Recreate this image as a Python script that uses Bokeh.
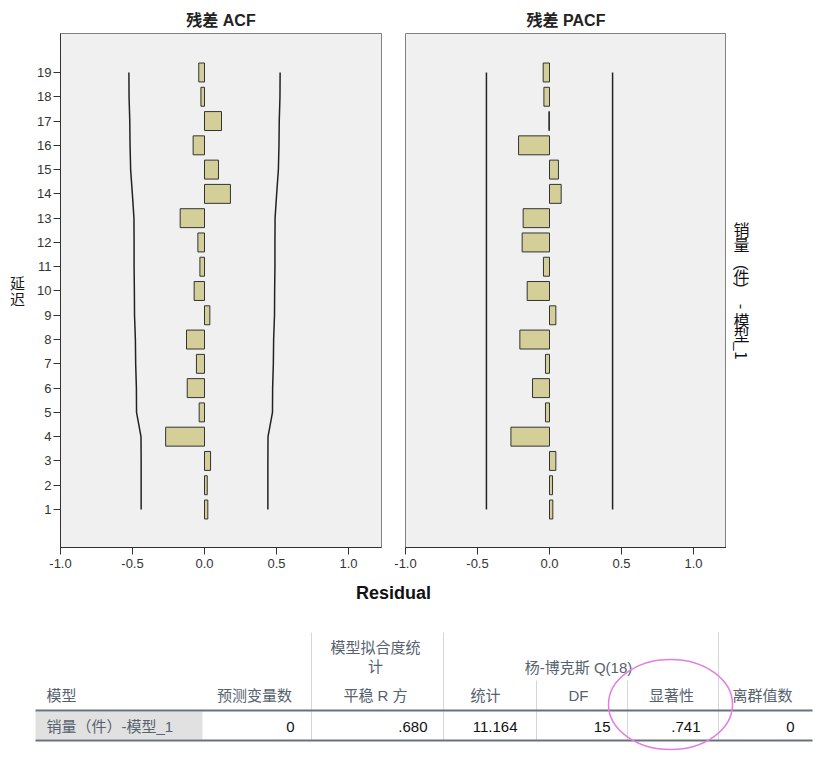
from bokeh.plotting import figure
from bokeh.models import Range1d, FixedTicker, PrintfTickFormatter, Title
from bokeh.layouts import column, row
from bokeh.embed import file_html
from bokeh.resources import INLINE
from bokeh.core.properties import value
import math

# ---------------- data ----------------
lags = list(range(1, 20))
acf = [0.023, 0.019, 0.042, -0.270, -0.037, -0.120, -0.056, -0.125, 0.037, -0.072,
       -0.032, -0.046, -0.169, 0.180, 0.097, -0.079, 0.118, -0.025, -0.040]
acf_limit = [0.440, 0.440, 0.440, 0.441, 0.472, 0.473, 0.478, 0.480, 0.486, 0.487,
             0.489, 0.489, 0.490, 0.501, 0.513, 0.517, 0.519, 0.524, 0.525]
pacf = [0.023, 0.021, 0.044, -0.268, -0.028, -0.118, -0.028, -0.206, 0.044, -0.155,
        -0.042, -0.190, -0.183, 0.081, 0.062, -0.215, -0.005, -0.039, -0.044]
pacf_limit = [0.438, 0.438, 0.438, 0.438, 0.438, 0.438, 0.438, 0.438, 0.438, 0.438,
              0.438, 0.438, 0.438, 0.438, 0.438, 0.438, 0.438, 0.438, 0.438]
x_ticks = [-1.0, -0.5, 0.0, 0.5, 1.0]

panel_titles = ["残差 ACF", "残差 PACF"]
y_label = "延迟"
x_label = "Residual"
series_label = "销量（件）-模型_1"

group_headers = ["模型拟合度统计", "杨-博克斯 Q(18)"]
col_headers = ["模型", "预测变量数", "平稳 R 方", "统计", "DF", "显著性", "离群值数"]
row_label = "销量（件）-模型_1"
row_values = ["0", ".680", "11.164", "15", ".741", "0"]

# ---------------- style ----------------
LAT = "Liberation Sans, Noto Sans CJK SC"
CJK = "Noto Sans CJK SC, Liberation Sans"
X_START, X_END = -1.0, 1.229
Y_START, Y_END = -0.565, 20.606


def panel(title, vals, limits, first):
    p = figure(width=393 if first else 333, height=578, output_backend="svg",
               toolbar_location=None,
               x_range=Range1d(X_START, X_END), y_range=Range1d(Y_START, Y_END),
               min_border_left=60 if first else 12,
               min_border_right=12 if first else 0,
               min_border_top=33, min_border_bottom=31)
    p.title = Title(text=title, align="center", text_font=LAT, text_font_size="16px",
                    text_font_style="bold", text_color="#222222", standoff=9)
    p.background_fill_color = "#f0f0f0"
    p.border_fill_color = "white"
    p.outline_line_color = "#808080"
    p.outline_line_width = 1
    p.xgrid.visible = False
    p.ygrid.visible = False

    ax = p.xaxis[0]
    ax.ticker = FixedTicker(ticks=x_ticks, minor_ticks=[])
    ax.formatter = PrintfTickFormatter(format="%.1f")
    ax.major_tick_out = 7
    ax.major_tick_in = 0
    ax.minor_tick_out = 0
    ax.axis_line_color = "#333333"
    ax.major_tick_line_color = "#333333"
    ax.major_label_text_font = LAT
    ax.major_label_text_font_size = "13px"
    ax.major_label_text_color = "#333333"
    ax.major_label_standoff = 4

    ay = p.yaxis[0]
    if first:
        ay.ticker = FixedTicker(ticks=lags, minor_ticks=[])
        ay.major_tick_out = 7
        ay.major_tick_in = 0
        ay.minor_tick_out = 0
        ay.axis_line_color = "#333333"
        ay.major_tick_line_color = "#333333"
        ay.major_label_text_font = LAT
        ay.major_label_text_font_size = "13px"
        ay.major_label_text_color = "#333333"
        ay.major_label_standoff = 2
        ay.axis_label = "\n".join(list(y_label))
        ay.axis_label_orientation = "horizontal"
        ay.axis_label_text_font = CJK
        ay.axis_label_text_font_size = "15px"
        ay.axis_label_text_font_style = "normal"
        ay.axis_label_text_line_height = 0.75
        ay.axis_label_text_color = "#1a1a1a"
        ay.axis_label_standoff = 9
    else:
        ay.visible = False

    p.hbar(y=lags, left=0, right=vals, height=0.78,
           fill_color="#d4cf98", line_color="#333333", line_width=1)
    p.line(x=limits, y=lags, line_color="#222222", line_width=1.5)
    p.line(x=[-v for v in limits], y=lags, line_color="#222222", line_width=1.5)
    return p


p1 = panel(panel_titles[0], acf, acf_limit, True)
p2 = panel(panel_titles[1], pacf, pacf_limit, False)

# ---------------- vertical series label (right strip; y = 578 - page y) ----------------
p4 = figure(width=87, height=578, x_range=Range1d(726, 813), y_range=Range1d(0, 578),
            output_backend="svg", toolbar_location=None, x_axis_type=None, y_axis_type=None,
            min_border=0)
p4.outline_line_color = None
p4.background_fill_color = "white"
p4.border_fill_color = "white"
# vertical writing: CJK upright, punctuation / latin rotated clockwise
pieces = [("销", 220, 0), ("量", 237, 0), ("（", 258, 1), ("件", 273, 0),
          ("）", 288, 1), ("-", 307, 1), ("模", 322, 0), ("型", 338, 0), ("_1", 357, 1)]
up = [pc for pc in pieces if pc[2] == 0]
rot = [pc for pc in pieces if pc[2] == 1]
p4.text(x=[741] * len(up), y=[578 - pc[1] for pc in up], text=[pc[0] for pc in up],
        text_align="center", text_baseline="middle", text_font=value(CJK),
        text_font_size="16px", text_color="#111111")
p4.text(x=[741] * len(rot), y=[578 - pc[1] for pc in rot], text=[pc[0] for pc in rot],
        angle=-math.pi / 2, text_align="center", text_baseline="middle",
        text_font=value(CJK), text_font_size="16px", text_color="#111111")

# ---------------- table / shared x label (page pixel coordinates) ----------------
p3 = figure(width=813, height=173, x_range=Range1d(0, 813), y_range=Range1d(751, 578),
            output_backend="svg", toolbar_location=None, x_axis_type=None, y_axis_type=None,
            min_border=0)
p3.outline_line_color = None
p3.background_fill_color = "white"
p3.border_fill_color = "white"

p3.text(x=[393], y=[592], text=[x_label], text_align="center", text_baseline="middle",
        text_font=value(LAT), text_font_size="18px", text_font_style="bold",
        text_color="#111111")

HDR = "#56626e"
p3.quad(left=[35], right=[202], top=[711], bottom=[739], fill_color="#e1e1e1", line_color=None)
p3.segment(x0=[311, 443, 536, 627, 718], y0=[632, 632, 680, 680, 632],
           x1=[311, 443, 536, 627, 718], y1=[740, 740, 740, 740, 740],
           line_color="#d6d6d6", line_width=1)
p3.segment(x0=[35, 35], y0=[710, 740], x1=[812, 812], y1=[710, 740],
           line_color="#66727c", line_width=2)

g1 = group_headers[0]
p3.text(x=[375, 375], y=[647, 666], text=[g1[:6], g1[6:]], text_align="center",
        text_baseline="middle", text_font=value(LAT), text_font_size="15px", text_color=HDR)
p3.text(x=[578], y=[667], text=[group_headers[1]], text_align="center",
        text_baseline="middle", text_font=value(LAT), text_font_size="15px", text_color=HDR)
p3.text(x=[46], y=[695], text=[col_headers[0]], text_align="left", text_baseline="middle",
        text_font=value(LAT), text_font_size="15px", text_color=HDR)
p3.text(x=[254, 375, 485, 578, 671, 762], y=[695] * 6, text=col_headers[1:],
        text_align="center", text_baseline="middle",
        text_font=value(LAT), text_font_size="15px", text_color=HDR)
p3.text(x=[46], y=[726], text=[row_label], text_align="left", text_baseline="middle",
        text_font=value(LAT), text_font_size="15px", text_color=HDR)
p3.text(x=[294, 427, 517, 610, 700, 794], y=[726] * 6, text=row_values,
        text_align="right", text_baseline="middle",
        text_font=value(LAT), text_font_size="15px", text_color="#111111")

p3.ellipse(x=[670], y=[704], width=[124], height=[90], fill_color=None,
           line_color="#e47ce4", line_width=1.5)

layout = column(row(p1, p2, p4), p3)
open("out.html", "w").write(file_html(layout, INLINE))
